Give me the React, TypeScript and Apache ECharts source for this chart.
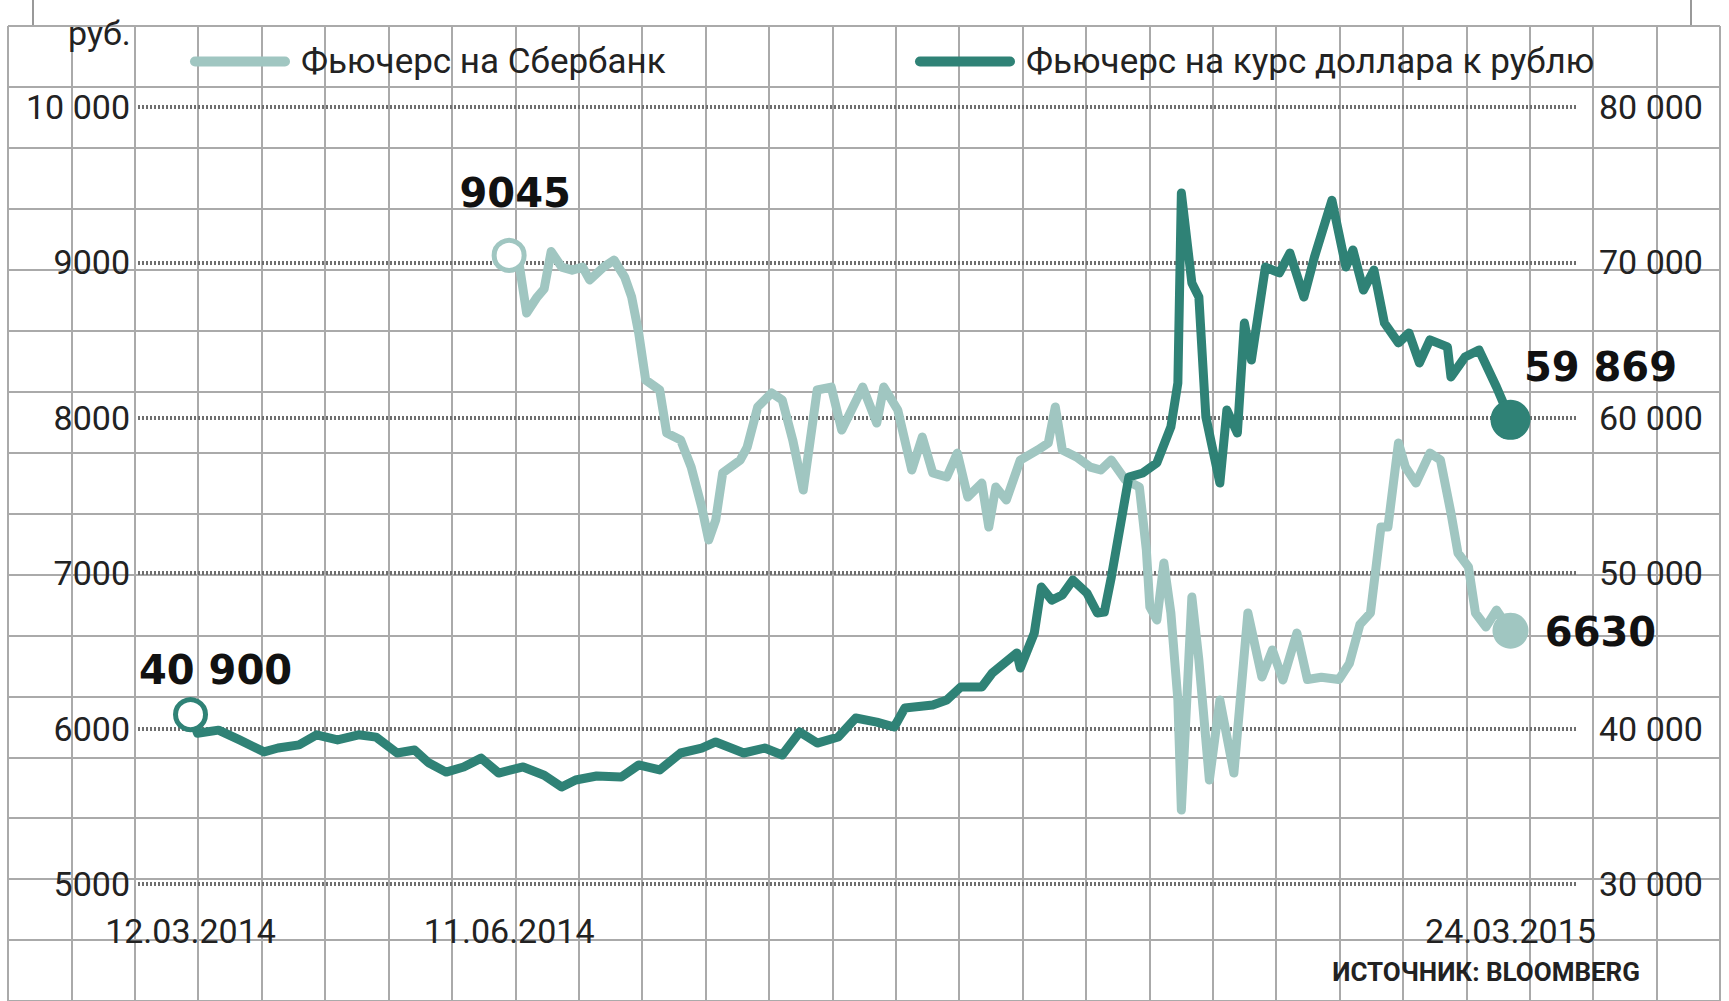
import { useEffect, useRef } from "react";
import * as echarts from "echarts";

// ---- data ----
const sberName = "Фьючерс на Сбербанк";
const usdName = "Фьючерс на курс доллара к рублю";

// x positions are days counted from 12.03.2014
const dateTickDays = [0, 91, 377];
const dateTickLabels = ["12.03.2014", "11.06.2014", "24.03.2015"];

const leftTicks = [5000, 6000, 7000, 8000, 9000, 10000];
const leftTickLabels = ["5000", "6000", "7000", "8000", "9000", "10 000"];
const rightTicks = [30000, 40000, 50000, 60000, 70000, 80000];
const rightTickLabels = ["30 000", "40 000", "50 000", "60 000", "70 000", "80 000"];

const sberDays = [
  91, 94, 96, 99, 101, 103, 106, 109, 112, 114, 118, 121, 124, 126, 128, 130, 134, 136, 140, 143,
  146, 148, 150, 152, 157, 159, 162, 166, 169, 172, 175, 177, 179, 183, 186, 192, 196, 198, 202, 206,
  209, 212, 216, 219, 222, 226, 228, 230, 233, 237, 242, 245, 247, 249, 253, 257, 260, 263, 267, 271,
  273, 274, 276, 278, 280, 282, 283, 286, 288, 291, 294, 298, 302, 306, 309, 312, 316, 319, 323, 328,
  331, 334, 337, 340, 342, 345, 347, 350, 354, 357, 360, 362, 365, 367, 370, 373, 377,
];
const sberValues = [
  9045, 8970, 8674, 8777, 8830, 9070, 8970, 8950, 8970, 8887, 8970, 9015, 8906, 8777, 8546, 8243, 8179, 7902, 7857, 7683,
  7426, 7214, 7342, 7645, 7728, 7812, 8070, 8160, 8115, 7857, 7535, 7857, 8179, 8198, 7921, 8198, 7966, 8198, 8050, 7664,
  7876, 7645, 7619, 7773, 7490, 7580, 7297, 7555, 7471, 7728, 7793, 7838, 8070, 7793, 7748, 7683, 7664, 7728, 7600, 7555,
  7149, 6783, 6699, 7066, 6744, 6184, 5476, 6847, 6441, 5669, 6184, 5714, 6744, 6332, 6506, 6313, 6615, 6316, 6330, 6316,
  6420, 6670, 6744, 7297, 7297, 7838, 7683, 7580, 7773, 7728, 7387, 7130, 7040, 6744, 6654, 6763, 6630,
];

const usdDays = [
  0, 2, 8, 14, 21, 25, 31, 36, 42, 48, 53, 59, 64, 68, 73, 78, 83, 88, 95, 101,
  106, 110, 116, 123, 128, 134, 140, 146, 150, 158, 164, 169, 174, 179, 185, 190, 196, 201, 204, 212,
  216, 220, 226, 229, 236, 237, 241, 243, 246, 249, 252, 256, 259, 261, 263, 266, 268, 272, 276, 280,
  282, 283, 286, 288, 290, 294, 296, 299, 301, 303, 307, 311, 314, 318, 321, 326, 330, 332, 335, 338,
  341, 345, 348, 351, 354, 359, 360, 364, 368, 373, 377,
];
const usdValues = [
  40900, 39700, 39900, 39270, 38500, 38750, 38950, 39600, 39270, 39600, 39450, 38430, 38620, 37800, 37200, 37530, 38100, 37140, 37530, 37000,
  36240, 36690, 36950, 36880, 37660, 37340, 38430, 38750, 39140, 38430, 38750, 38300, 39780, 39070, 39460, 40680, 40420, 40100, 41320, 41520,
  41840, 42680, 42680, 43580, 44870, 43900, 46150, 49110, 48270, 48600, 49560, 48730, 47440, 47500, 49750, 53620, 56190, 56450, 57100, 59410,
  62240, 74470, 68670, 67770, 60050, 55800, 60500, 59020, 66100, 63720, 69700, 69320, 70600, 67770, 70340, 74000, 69700, 70800, 68220, 69510,
  66100, 64820, 65460, 63530, 65010, 64560, 62630, 63910, 64370, 61980, 59869,
];

const sberMarks = ["9045", "6630"];
const usdMarks = ["40 900", "59 869"];
const sourceText = "ИСТОЧНИК: BLOOMBERG";
const unitText = "руб.";

// ---- styles ----
const LIGHT = "#a0c6c1";
const DARK = "#2f8276";
const TEXT = "#222";
const FONT = "Roboto, 'Liberation Sans', sans-serif";
const BOLD_FONT = "'DejaVu Sans', sans-serif";

const pill = "path://M5,0 L95,0 A5,5 0 0 1 95,10 L5,10 A5,5 0 0 1 5,0 Z";

function endLabel(text: string, offset: number[]) {
  return {
    show: true,
    position: "inside",
    offset,
    formatter: text,
    fontFamily: BOLD_FONT,
    fontWeight: "bold",
    fontSize: 40,
    color: "#111",
  };
}

function buildData(
  days: number[],
  vals: number[],
  color: string,
  marks: string[],
  firstOffset: number[],
  lastOffset: number[],
  firstSize: number,
  lastSize: number
) {
  const n = days.length;
  return days.map((d, i) => {
    if (i === 0) {
      return {
        value: [d, vals[i]],
        symbol: "circle",
        symbolSize: firstSize,
        itemStyle: { color: "#fff", borderColor: color, borderWidth: 5 },
        label: endLabel(marks[0], firstOffset),
      };
    }
    if (i === n - 1) {
      return {
        value: [d, vals[i]],
        symbol: "circle",
        symbolSize: lastSize,
        itemStyle: { color, borderWidth: 0 },
        label: endLabel(marks[1], lastOffset),
      };
    }
    return { value: [d, vals[i]] };
  });
}

export default function App() {
  const ref = useRef<HTMLDivElement>(null);

  useEffect(() => {
    if (!ref.current) return;
    const chart = echarts.init(ref.current, null, { renderer: "svg" });

    const paperLine = { show: true, lineStyle: { color: "#aaaaaa", width: 2 } };
    const hidden = {
      axisLine: { show: false },
      axisTick: { show: false },
      axisLabel: { show: false },
    };

    const legendText = { fontSize: 35, color: TEXT, fontFamily: FONT, padding: [0, 0, 0, 6] };

    chart.setOption({
      animation: false,
      backgroundColor: "#fff",
      title: [
        {
          text: sourceText,
          right: 89,
          top: 959,
          padding: 0,
          textStyle: { fontSize: 26, fontWeight: "bold", color: TEXT, fontFamily: FONT },
        },
        {
          text: unitText,
          left: 68,
          top: 16,
          padding: 0,
          textStyle: { fontSize: 34, fontWeight: "normal", color: TEXT, fontFamily: FONT },
        },
      ],
      legend: [
        {
          data: [{ name: sberName, itemStyle: { color: LIGHT, borderWidth: 0 } }],
          left: 190,
          top: 44,
          padding: 0,
          icon: pill,
          itemWidth: 100,
          itemHeight: 10,
          selectedMode: false,
          textStyle: legendText,
        },
        {
          data: [{ name: usdName, itemStyle: { color: DARK, borderWidth: 0 } }],
          left: 915,
          top: 44,
          padding: 0,
          icon: pill,
          itemWidth: 100,
          itemHeight: 10,
          selectedMode: false,
          textStyle: legendText,
        },
      ],
      grid: [
        { left: 138, right: 152, top: 107, height: 777 },
        { left: 8, top: 26, width: 1712, height: 981 },
      ],
      xAxis: [
        {
          type: "value",
          gridIndex: 0,
          min: -15,
          max: 396,
          z: 2,
          axisLine: { show: false },
          axisTick: { show: false },
          splitLine: { show: false },
          axisLabel: {
            customValues: dateTickDays,
            formatter: (v: number) => {
              const i = dateTickDays.indexOf(v);
              return i >= 0 ? dateTickLabels[i] : "";
            },
            fontSize: 34,
            color: TEXT,
            fontFamily: FONT,
            margin: 30,
          },
        },
        {
          type: "value",
          gridIndex: 1,
          min: 0,
          max: 27,
          interval: 1,
          z: 0,
          ...hidden,
          splitLine: paperLine,
        },
      ],
      yAxis: [
        {
          type: "value",
          gridIndex: 0,
          min: 5000,
          max: 10000,
          interval: 1000,
          z: 2,
          axisLine: { show: false },
          axisTick: { show: false },
          axisLabel: {
            formatter: (v: number) => leftTickLabels[leftTicks.indexOf(v)],
            fontSize: 34,
            color: TEXT,
            fontFamily: FONT,
            margin: 8,
          },
          splitLine: { show: true, lineStyle: { color: "#6e6e6e", width: 4, type: [2, 2] } },
        },
        {
          type: "value",
          gridIndex: 0,
          position: "right",
          min: 30000,
          max: 80000,
          interval: 10000,
          z: 2,
          axisLine: { show: false },
          axisTick: { show: false },
          axisLabel: {
            formatter: (v: number) => rightTickLabels[rightTicks.indexOf(v)],
            fontSize: 34,
            color: TEXT,
            fontFamily: FONT,
            margin: 22,
          },
          splitLine: { show: false },
        },
        {
          type: "value",
          gridIndex: 1,
          min: 0,
          max: 16,
          interval: 1,
          inverse: true,
          z: 0,
          ...hidden,
          splitLine: paperLine,
        },
      ],
      graphic: [
        { type: "line", shape: { x1: 33, y1: 0, x2: 33, y2: 26 }, style: { stroke: "#999", lineWidth: 2 } },
        { type: "line", shape: { x1: 1691, y1: 0, x2: 1691, y2: 26 }, style: { stroke: "#999", lineWidth: 2 } },
      ],
      series: [
        {
          name: sberName,
          type: "line",
          xAxisIndex: 0,
          yAxisIndex: 0,
          z: 3,
          symbol: "none",
          showSymbol: true,
          color: LIGHT,
          itemStyle: { color: LIGHT },
          lineStyle: { color: LIGHT, width: 9, cap: "round", join: "round" },
          data: buildData(sberDays, sberValues, LIGHT, sberMarks, [6, -62], [90, 1], 30, 36),
        },
        {
          name: usdName,
          type: "line",
          xAxisIndex: 0,
          yAxisIndex: 1,
          z: 4,
          symbol: "none",
          showSymbol: true,
          color: DARK,
          itemStyle: { color: DARK },
          lineStyle: { color: DARK, width: 9, cap: "round", join: "round" },
          data: buildData(usdDays, usdValues, DARK, usdMarks, [25, -45], [90, -53], 30, 40),
        },
      ],
    });

    return () => chart.dispose();
  }, []);

  return (
    <div
      ref={ref}
      style={{ position: "absolute", left: 0, top: 0, width: 1729, height: 1001 }}
    />
  );
}
